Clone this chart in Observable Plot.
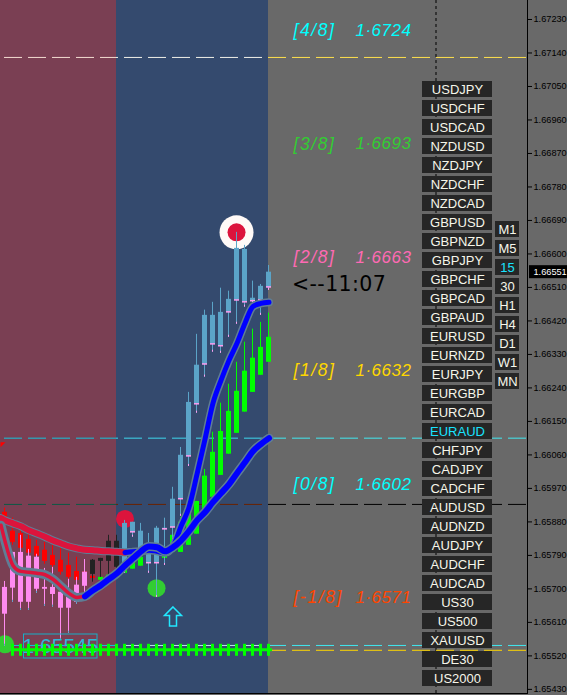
<!DOCTYPE html>
<html>
<head>
<meta charset="utf-8">
<script src="https://cdn.jsdelivr.net/npm/d3@7"></script>
<script src="https://cdn.jsdelivr.net/npm/@observablehq/plot@0.6"></script>
<style>
html,body{margin:0;padding:0;background:#696969;overflow:hidden}
.lvlA text{letter-spacing:1.6px}
.lvlB text{letter-spacing:0.5px}
.clock text{letter-spacing:0.4px}
</style>
</head>
<body>
<div id="chart"></div>
<script>
// ---- Data -------------------------------------------------------------
const paleIndex = [0,1,2,3,4,5,6,7,8,9,10,15,16,17,18,19,20,21,22,23,24,25,26,27,28,29,30,31,32,33];
const paleHigh = [1.65720,1.65798,1.65844,1.65806,1.65793,1.65755,1.65758,1.65691,1.65726,1.65731,1.65779,1.65884,1.65879,1.65876,1.65849,1.65868,1.65890,1.65973,1.66080,1.66228,1.66384,1.66449,1.66470,1.66508,1.66500,1.66658,1.66623,1.66527,1.66518,1.66569];
const paleTop = [1.65704,1.65798,1.65798,1.65788,1.65785,1.65704,1.65704,1.65691,1.65677,1.65710,1.65745,1.65876,1.65879,1.65855,1.65809,1.65863,1.65863,1.65941,1.66059,1.66201,1.66301,1.66435,1.66435,1.66443,1.66478,1.66615,1.66612,1.66481,1.66513,1.66551];
const paleBottom = [1.65632,1.65702,1.65664,1.65664,1.65699,1.65699,1.65685,1.65648,1.65648,1.65664,1.65707,1.65755,1.65852,1.65809,1.65769,1.65769,1.65860,1.65865,1.65941,1.66056,1.66196,1.66303,1.66357,1.66352,1.66443,1.66475,1.66470,1.66473,1.66475,1.66510];
const paleLow = [1.65546,1.65664,1.65642,1.65642,1.65688,1.65653,1.65651,1.65562,1.65581,1.65659,1.65683,1.65742,1.65839,1.65804,1.65742,1.65677,1.65763,1.65830,1.65895,1.66029,1.66172,1.66269,1.66336,1.66333,1.66376,1.66411,1.66457,1.66470,1.66435,1.66502];

const redIndex = [0,1,2,3,4,5,6,7,8,9,10,11];
const redHigh = [1.65917,1.65890,1.65879,1.65857,1.65830,1.65825,1.65817,1.65809,1.65796,1.65785,1.65779,1.65734];
const redTop = [1.65906,1.65855,1.65849,1.65833,1.65814,1.65804,1.65790,1.65777,1.65763,1.65747,1.65745,1.65734];
const redBottom = [1.65892,1.65825,1.65809,1.65796,1.65788,1.65774,1.65763,1.65745,1.65731,1.65723,1.65728,1.65728];
const redLow = [1.65849,1.65817,1.65798,1.65788,1.65777,1.65766,1.65755,1.65737,1.65723,1.65715,1.65723,1.65728];

const blackIndex = [11,12,13,14];
const blackHigh = [1.65779,1.65782,1.65844,1.65844];
const blackTop = [1.65777,1.65782,1.65828,1.65828];
const blackBottom = [1.65739,1.65774,1.65774,1.65758];
const blackLow = [1.65718,1.65731,1.65737,1.65731];

const greenIndex = [12,13,15,16,17,20,21,22,23,24,25,26,27,28,29,30,31,32,33];
const greenHigh = [1.65731,1.65737,1.65755,1.65771,1.65785,1.65790,1.65852,1.65892,1.65941,1.65935,1.66021,1.66121,1.66199,1.66250,1.66309,1.66363,1.66398,1.66416,1.66441];
const greenTop = [1.65731,1.65737,1.65755,1.65771,1.65785,1.65790,1.65844,1.65879,1.65925,1.65935,1.66003,1.66067,1.66123,1.66177,1.66231,1.66285,1.66320,1.66349,1.66376];
const greenBottom = [1.65723,1.65723,1.65742,1.65753,1.65761,1.65782,1.65798,1.65798,1.65817,1.65847,1.65898,1.65946,1.66005,1.66062,1.66118,1.66175,1.66228,1.66274,1.66309];

const maIndex = [-0.5,0,1,2,3,4,5,6,7,8,9,10,11,12,13,14,15,16,17,18,19,20,21,22,23,24,25,26,27,28,29,30,31,32,33];
const maFast = [1.65890,1.65884,1.65876,1.65868,1.65857,1.65849,1.65840,1.65830,1.65822,1.65814,1.65809,1.65805,1.65804,1.65802,1.65801,1.65800,1.65798,1.65800,1.65801,1.65804,1.65801,1.65797,1.65814,1.65868,1.65919,1.66008,1.66102,1.66199,1.66260,1.66314,1.66360,1.66414,1.66459,1.66467,1.66470];
const maSlow = [1.65871,1.65828,1.65763,1.65747,1.65745,1.65742,1.65738,1.65726,1.65707,1.65688,1.65677,1.65680,1.65696,1.65710,1.65726,1.65742,1.65763,1.65782,1.65801,1.65814,1.65812,1.65801,1.65812,1.65830,1.65855,1.65884,1.65906,1.65933,1.65957,1.65981,1.66011,1.66040,1.66070,1.66089,1.66105];

const priceTicks = [1.67230,1.67140,1.67050,1.66960,1.66870,1.66780,1.66690,1.66600,1.66510,1.66420,1.66330,1.66240,1.66150,1.66060,1.65970,1.65880,1.65790,1.65700,1.65610,1.65520,1.65430];
const currentPrice = 1.66551;

const levelNames = ["[4/8]","[3/8]","[2/8]","[1/8]","[0/8]","[-1/8]"];
const levelValues = ["1·6724","1·6693","1·6663","1·6632","1·6602","1·6571"];
const levelColors = ["#00ffff","#32cd32","#ff69b4","#ffd700","#00ffff","#ff4500"];

const symbolNames = ["USDJPY","USDCHF","USDCAD","NZDUSD","NZDJPY","NZDCHF","NZDCAD","GBPUSD","GBPNZD","GBPJPY","GBPCHF","GBPCAD","GBPAUD","EURUSD","EURNZD","EURJPY","EURGBP","EURCAD","EURAUD","CHFJPY","CADJPY","CADCHF","AUDUSD","AUDNZD","AUDJPY","AUDCHF","AUDCAD","US30","US500","XAUUSD","DE30","US2000"];
const timeframes = ["M1","M5","15","30","H1","H4","D1","W1","MN"];

// ---- Layout helpers (pixel <-> scale for the non-data furniture) --------
const W = 567, H = 695, plotR = 527, plotB = 693;
const pxPrice = 0.00002687, topPrice = 1.67281;
const P = py => topPrice - py * pxPrice;
const X = px => px / 8 - 0.5625;

const zip = (idx, h, t, b, l) => idx.map((i, k) => ({i, high: h[k], top: t[k], bottom: b[k], low: l ? l[k] : b[k]}));
const pale = zip(paleIndex, paleHigh, paleTop, paleBottom, paleLow);
const reds = zip(redIndex, redHigh, redTop, redBottom, redLow);
const blacks = zip(blackIndex, blackHigh, blackTop, blackBottom, blackLow);
const greens = zip(greenIndex, greenHigh, greenTop, greenBottom);
const paleColor = d => d.i <= 10 ? "#ff8af0" : "#5ba4c8";

function candleMarks(data, color) {
  return [
    Plot.ruleX(data, {x: "i", y1: "high", y2: "low", stroke: color, strokeWidth: 1, dx: -0.5}),
    Plot.rect(data, {x1: d => d.i - 0.3125, x2: d => d.i + 0.3125, y1: "top", y2: "bottom", fill: color})
  ];
}
const ma = (vals, a, b) => maIndex.map((i, k) => ({i, v: vals[k]})).slice(a, b);
function maMarks(vals, split, redW, blueW) {
  const line = (d, stroke, strokeWidth) => Plot.line(d, {x: "i", y: "v", stroke, strokeWidth, curve: "monotone-x"});
  return [
    line(ma(vals), "#5f7d95", blueW + 3),
    line(ma(vals, 0, split), "#dc143c", redW),
    line(ma(vals, split - 1), "#0000ff", blueW)
  ];
}
const dashed = (y, parts) => parts.map(([x1, x2, stroke]) =>
  Plot.ruleY([y], {x1: X(x1), x2: X(x2), stroke, strokeWidth: 1, strokeDasharray: "18,6",
    strokeDashoffset: ((x1 - 4) % 24 + 24) % 24, dx: 0}));

const arrowSymbol = {draw(c) {
  c.moveTo(0, -9.5); c.lineTo(8.5, -1); c.lineTo(3.5, -1); c.lineTo(3.5, 9.5);
  c.lineTo(-3.5, 9.5); c.lineTo(-3.5, -1); c.lineTo(-8.5, -1); c.closePath();
}};
const cornerSymbol = {draw(c) { c.moveTo(0, 0); c.lineTo(5, 0); c.lineTo(0, 5); c.closePath(); }};

const btnRow = (names, y0) => names.map((name, k) => ({name, y: y0 + 19 * k}));
const pairs = btnRow(symbolNames, 89);
const tfs = btnRow(timeframes, 229);

const chart = Plot.plot({
  width: W, height: H,
  marginLeft: 0, marginRight: W - plotR, marginTop: 0, marginBottom: H - plotB,
  x: {domain: [X(0), X(plotR)], axis: null},
  y: {domain: [P(plotB), P(0)], axis: null},
  style: {background: "#696969", fontFamily: "'Liberation Sans', sans-serif", fontSize: "9.2px", color: "#000"},
  marks: [
    // sessions
    Plot.rect([[X(0), X(116), "#7a3f53"], [X(116), X(268), "#344a6e"]],
      {x1: d => d[0], x2: d => d[1], fill: d => d[2]}),
    // vertical dashed line
    Plot.ruleX([X(436)], {stroke: "#000", strokeDasharray: "3,3", dx: -0.5}),
    // Murrey horizontal lines
    ...dashed(1.67128, [[0, 116, "#f3dcd0"], [116, 268, "#f0f0e8"], [268, plotR, "#ffe14d"]]),
    ...dashed(1.66105, [[0, 116, "#14c4dc"], [116, 268, "#3fd8ee"], [268, plotR, "#40e8f0"]]),
    ...dashed(1.65927, [[0, 116, "#0c5a46"], [116, 268, "#6a2300"], [268, plotR, "#000000"]]),
    ...dashed(1.65548, [[0, 116, "#14c4dc"], [116, 268, "#bfe6f0"], [268, plotR, "#40e8f0"]]),
    ...dashed(1.65535, [[0, 116, "#ffd700"], [116, 268, "#ffd700"], [268, plotR, "#ffd700"]]),
    // signals below the candles
    Plot.dot([1.66658], {x: () => 28.94, y: d => d, r: 17, fill: "#fffaf7", stroke: null}),
    Plot.dot([1.66658], {x: () => 28.94, y: d => d, r: 9, fill: "#dc143c", stroke: null}),
    Plot.dot([1.65888], {x: () => 15, y: d => d, r: 9, fill: "#dc143c", stroke: null}),
    Plot.dot([1.65702], {x: () => 18.94, y: d => d, r: 9, fill: "#32cd32", stroke: null}),
    Plot.dot([1.65551], {x: () => 0, y: d => d, r: 9, fill: "#32cd32", stroke: null}),
    Plot.dot([1.65626], {x: () => 21, y: d => d, symbol: arrowSymbol, fill: "none", stroke: "#22e8ff", strokeWidth: 1.5}),
    Plot.dot([1.66094], {x: () => X(0), y: d => d, symbol: cornerSymbol, fill: "#ff0000", stroke: null}),
    // candles
    ...candleMarks(reds, "#ff0000"),
    ...candleMarks(greens, "#00ff00"),
    ...candleMarks(blacks, "#222222"),
    ...candleMarks(pale, paleColor),
    Plot.ruleY(pale.filter(d => d.i > 10), {
      x1: d => d.i - 0.3125, x2: d => d.i + 0.3125, y: "bottom", stroke: "#ff9df0", strokeWidth: 1.5, dy: -0.5}),
    Plot.ruleX(pale, {x: "i", y1: "low", y2: d => d.low + 2 * pxPrice,
      stroke: d => d.i > 10 ? "#ff9df0" : "#5ba4c8", dx: -0.5}),
    // moving averages
    ...maMarks(maFast, 17, 6, 5),
    ...maMarks(maSlow, 12, 3.5, 6),
    // price box
    Plot.rect([1.65545], {x1: () => X(23.5), x2: () => X(97), y1: () => P(634), y2: () => P(658),
      fill: "none", stroke: "#17b0c8", strokeWidth: 1}),
    Plot.text(["1.65545"], {x: () => X(60), y: () => P(646), text: d => d, fill: "#30b4d8", fontSize: 21}),
    // green cross line
    Plot.ruleY([1.65535], {x1: X(11), x2: X(272), stroke: "#00ff00", strokeWidth: 3, dy: -0.5}),
    Plot.ruleX(d3.range(1, 34), {x: d => d, y1: () => 1.65535 + 6 * pxPrice, y2: () => 1.65535 - 6 * pxPrice,
      stroke: "#00ff00", strokeWidth: 3, dx: -0.5}),
    // Murrey labels
    Plot.text(levelNames, {x: () => X(293), y: (d, k) => P(30 + 113.4 * k), text: d => d, fill: (d, k) => levelColors[k],
      fontSize: 17.5, fontStyle: "italic", textAnchor: "start", className: "lvlA"}),
    Plot.text(levelValues, {x: () => X(355), y: (d, k) => P(30 + 113.4 * k), text: d => d, fill: (d, k) => levelColors[k],
      fontSize: 17, fontStyle: "italic", textAnchor: "start", className: "lvlB"}),
    Plot.text(["<--11:07"], {x: () => X(291.5), y: () => P(284), text: d => d, fill: "#000",
      fontFamily: "'DejaVu Sans'", fontSize: 20.5, textAnchor: "start", className: "clock"}),
    // buttons
    Plot.rect(pairs, {x1: () => X(422), x2: () => X(492), y1: d => P(d.y - 8), y2: d => P(d.y + 8), fill: "#262626"}),
    Plot.text(pairs, {x: () => X(457), y: d => P(d.y), text: "name", fontSize: 13,
      fill: d => d.name === "EURAUD" ? "#19e3ff" : "#f6f6ea"}),
    Plot.rect(tfs, {x1: () => X(495), x2: () => X(519), y1: d => P(d.y - 8), y2: d => P(d.y + 8), fill: "#262626"}),
    Plot.text(tfs, {x: () => X(507), y: d => P(d.y), text: "name", fontSize: 13,
      fill: d => d.name === "15" ? "#19e3ff" : "#f6f6ea"}),
    // axis
    Plot.frame({anchor: "right", stroke: "#000"}),
    Plot.frame({anchor: "bottom", stroke: "#000"}),
    Plot.axisY({anchor: "right", ticks: priceTicks, tickSize: 4, tickPadding: 2, label: null,
      tickFormat: d => d.toFixed(5), stroke: "#000"}),
    Plot.rect([currentPrice], {x1: () => X(529), x2: () => X(567), y1: d => d + 6.5 * pxPrice, y2: d => d - 6.5 * pxPrice, fill: "#000"}),
    Plot.text([currentPrice], {x: () => X(533), y: d => d, text: d => d.toFixed(5), fill: "#fff", textAnchor: "start"})
  ]
});
document.getElementById("chart").append(chart);
</script>
</body>
</html>
